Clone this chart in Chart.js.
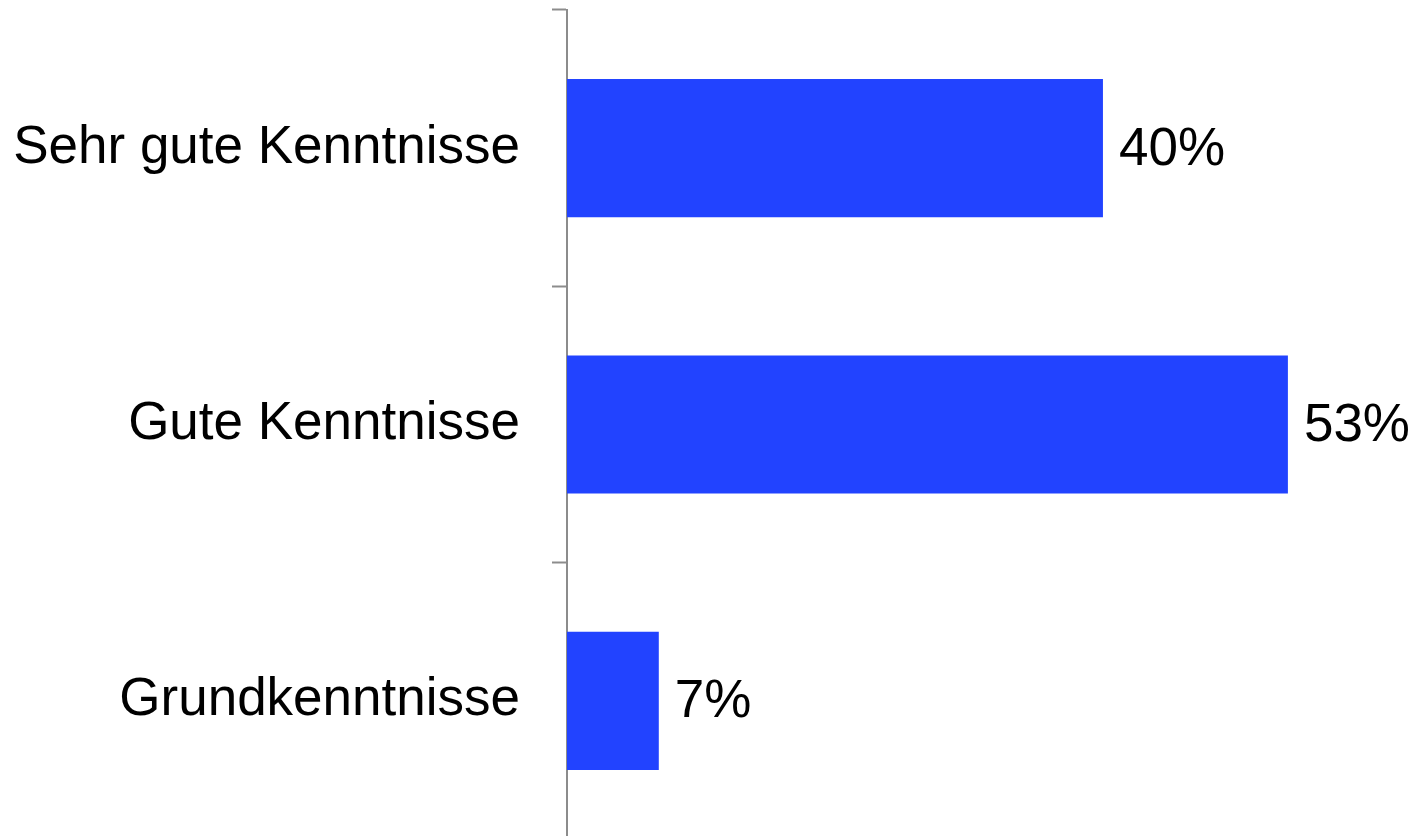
<!DOCTYPE html>
<html>
<head>
<meta charset="utf-8">
<script src="https://cdn.jsdelivr.net/npm/chart.js@4/dist/chart.umd.min.js"></script>
<style>
  html, body { margin: 0; padding: 0; background: #fff; overflow: hidden; }
  #wrap { position: relative; width: 1416px; height: 839px; }
</style>
</head>
<body>
<div id="wrap"><canvas id="c"></canvas></div>
<script>
const categories = ["Sehr gute Kenntnisse", "Gute Kenntnisse", "Grundkenntnisse"];
const values = [39.7, 53.4, 6.8];
const valueLabels = ["40%", "53%", "7%"];

const FONT = "'Liberation Sans', Arial, sans-serif";

const valueLabelPlugin = {
  id: 'valueLabels',
  afterDatasetsDraw(chart) {
    const ctx = chart.ctx;
    const meta = chart.getDatasetMeta(0);
    ctx.save();
    ctx.font = "53px " + FONT;
    ctx.fillStyle = "#000";
    ctx.textAlign = "left";
    ctx.textBaseline = "middle";
    meta.data.forEach((bar, i) => {
      ctx.fillText(valueLabels[i], bar.x + 16, bar.y + 2);
    });
    ctx.restore();
  }
};

new Chart(document.getElementById('c'), {
  type: 'bar',
  data: {
    labels: categories,
    datasets: [{
      data: values,
      backgroundColor: '#2243FF',
      borderWidth: 0,
      barPercentage: 1,
      categoryPercentage: 0.5
    }]
  },
  options: {
    indexAxis: 'y',
    responsive: true,
    maintainAspectRatio: false,
    animation: false,
    layout: { padding: { top: 10, right: 12, left: 0, bottom: 0 } },
    plugins: { legend: { display: false }, tooltip: { enabled: false } },
    scales: {
      x: { display: false, min: 0, max: 62 },
      y: {
        afterFit(scale) {
          scale.width = 567;
          scale.paddingTop = 0;
          scale.paddingBottom = 0;
        },
        grid: {
          drawOnChartArea: false,
          drawTicks: true,
          tickLength: 15,
          tickWidth: 2,
          tickColor: '#8c8c8c',
          offset: true
        },
        border: { display: true, color: '#8c8c8c', width: 2 },
        ticks: {
          padding: 32,
          color: '#000',
          font: { family: FONT, size: 53 }
        }
      }
    }
  },
  plugins: [valueLabelPlugin]
});
</script>
</body>
</html>
